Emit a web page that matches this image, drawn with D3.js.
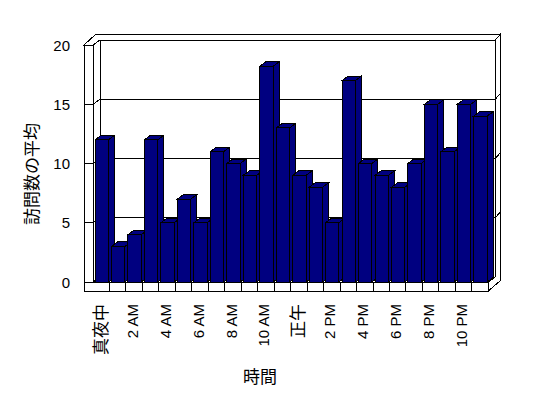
<!DOCTYPE html>
<html>
<head>
<meta charset="utf-8">
<script src="https://cdn.jsdelivr.net/npm/d3@7/dist/d3.min.js"></script>
<style>
  html, body { margin: 0; padding: 0; background: #fff; }
  svg { display: block; }
</style>
</head>
<body>
<svg id="chart" width="548" height="398"></svg>
<script>
// ---- data ----
const categories = ["真夜中","1 AM","2 AM","3 AM","4 AM","5 AM","6 AM","7 AM","8 AM","9 AM","10 AM","11 AM",
                    "正午","1 PM","2 PM","3 PM","4 PM","5 PM","6 PM","7 PM","8 PM","9 PM","10 PM","11 PM"];
const values = [12, 3, 4, 12, 5, 7, 5, 11, 10, 9, 18.2, 13, 9, 8, 5, 17, 10, 9, 8, 10, 15, 11, 15, 14];
const yTicks = [0, 5, 10, 15, 20];
const shownLabels = ["真夜中","2 AM","4 AM","6 AM","8 AM","10 AM","正午","2 PM","4 PM","6 PM","8 PM","10 PM"];
const yTitle = "訪問数の平均";
const xTitle = "時間";

// ---- layout ----
const svg = d3.select("#chart");
const plotLeft = 93, plotRight = 488.3, plotBottom = 282, plotTop = 45;
const wallOuter = 84, floorBottom = 291;
const P = [7, -5];      // plot depth
const T = [5.2, -6];    // back wall thickness
const B = [6, -4.5];    // bar depth
const navy = "#000080";

const x = d3.scaleBand().domain(categories).range([plotLeft, plotRight]).padding(0);
const y = d3.scaleLinear().domain([0, 20]).range([plotBottom, plotTop]);
const yb = v => y(v) + P[1];

const g = svg.append("g").attr("shape-rendering", "crispEdges");
const line = d3.line();
const poly = pts => line(pts) + "Z";
const face = (pts, fill) => g.append("path").attr("d", poly(pts))
  .attr("fill", fill).attr("stroke", "#000").attr("stroke-width", 1);
const seg = (pts) => g.append("path").attr("d", line(pts))
  .attr("fill", "none").attr("stroke", "#000").attr("stroke-width", 1);

const bx0 = plotLeft + P[0], bx1 = plotRight + P[0];

// back wall
face([[bx0, yb(20)], [bx1, yb(20)], [bx1, yb(0)], [bx0, yb(0)]], "#fff");
// left wall inner side
face([[plotLeft, y(20)], [bx0, yb(20)], [bx0, yb(0)], [plotLeft, y(0)]], "#fff");
// floor top
face([[plotLeft, y(0)], [plotRight, y(0)], [bx1, yb(0)], [bx0, yb(0)]], "#fff");
// left wall front strip
face([[wallOuter, y(20)], [plotLeft, y(20)], [plotLeft, floorBottom], [wallOuter, floorBottom]], "#fff");
// top thickness
face([[wallOuter, y(20)], [wallOuter + 12, yb(20) + T[1]], [bx1 + T[0], yb(20) + T[1]],
      [bx1, yb(20)], [bx0, yb(20)], [plotLeft, y(20)]], "#fff");
// right thickness
face([[bx1, yb(20)], [bx1 + T[0], yb(20) + T[1]], [bx1 + T[0], floorBottom - 10.5],
      [plotRight, floorBottom], [plotRight, y(0)], [bx1, yb(0)]], "#fff");
seg([[plotRight, y(0)], [bx1, yb(0)]]);

// gridlines
yTicks.filter(v => v > 0 && v < 20).forEach(v => {
  seg([[wallOuter, y(v)], [plotLeft, y(v)], [bx0, yb(v)], [bx1, yb(v)], [bx1 + T[0], yb(v) + T[1]]]);
});

// floor front
face([[wallOuter, y(0)], [plotRight, y(0)], [plotRight, floorBottom], [wallOuter, floorBottom]], "#fff");
categories.forEach((c, i) => {
  if (i > 0) seg([[x(c), y(0)], [x(c), floorBottom]]);
});

// bars
const bw = x.bandwidth() * 0.813;
categories.forEach((c, i) => {
  const v = values[i];
  const x0 = x(c) + 2, x1 = x0 + bw, yt = y(v), y0 = y(0);
  face([[x1, yt], [x1 + B[0], yt + B[1]], [x1 + B[0], y0 + B[1]], [x1, y0]], navy);
  face([[x0, yt], [x0 + B[0], yt + B[1]], [x1 + B[0], yt + B[1]], [x1, yt]], navy);
  face([[x0, yt], [x1, yt], [x1, y0], [x0, y0]], navy);
});

// y tick labels
const latin = "'Liberation Sans', Arial, sans-serif";
const cjk = "'Noto Sans CJK JP', sans-serif";
svg.append("g").selectAll("text").data(yTicks).join("text")
  .attr("x", 70).attr("y", d => y(d))
  .attr("text-anchor", "end").attr("dominant-baseline", "central")
  .attr("font-family", latin).attr("font-size", 15).attr("fill", "#000")
  .text(d => d);

// x tick labels
const isCJK = s => /[\u3000-\u9fff]/.test(s);
svg.append("g").selectAll("text").data(shownLabels).join("text")
  .attr("transform", d => `translate(${x(d) + x.bandwidth() / 2 - 2},304) rotate(-90)`)
  .attr("text-anchor", "end").attr("dominant-baseline", "central")
  .attr("font-family", d => isCJK(d) ? cjk : latin)
  .attr("font-size", d => isCJK(d) ? 17 : 15).attr("fill", "#000")
  .text(d => d);

// titles
svg.append("text")
  .attr("transform", "translate(30,174) rotate(-90)")
  .attr("text-anchor", "middle").attr("dominant-baseline", "central")
  .attr("font-family", cjk).attr("font-size", 17).text(yTitle);
svg.append("text")
  .attr("x", 260).attr("y", 375)
  .attr("text-anchor", "middle").attr("dominant-baseline", "central")
  .attr("font-family", cjk).attr("font-size", 17).text(xTitle);
</script>
</body>
</html>
